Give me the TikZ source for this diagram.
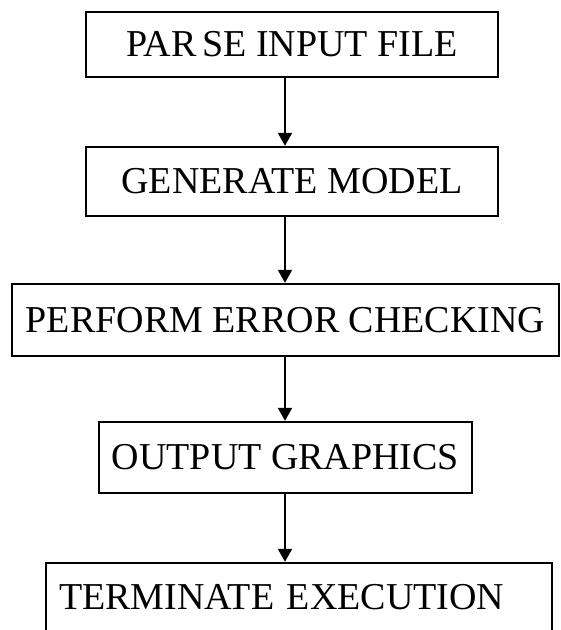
\documentclass[tikz,border=0pt]{standalone}
\usepackage{fontspec}
\setmainfont{Liberation Serif}
\usetikzlibrary{arrows.meta}

\tikzset{
  stage/.style={draw,line width=2.4pt,inner sep=0pt,
    font=\fontsize{38}{40}\selectfont},
  flow/.style={-{Triangle[width=14pt,length=13pt]},line width=2pt},
}

\begin{document}
\begin{tikzpicture}[x=1pt,y=-1pt]
  \useasboundingbox (0,0) rectangle (561,630);
  \coordinate (spine) at (285,0);

  % the five stages, top to bottom
  \node[stage,minimum width=412,minimum height=65] (parse) at (292,44.5)
    {PAR\kern0.15em SE INPUT FILE};
  \node[stage,minimum width=412,minimum height=69] (generate) at (292,181.5)
    {GENERATE MODEL};
  \node[stage,minimum width=547,minimum height=72] (check) at (285.5,320)
    {PERFORM ERROR CHECKING};
  \node[stage,minimum width=373,minimum height=71] (output) at (285.5,457.5)
    {OUTPUT GRAPHICS};
  % last box runs off the bottom of the page
  \node[stage,minimum height=69,text width=480,align=left,inner xsep=13]
    (halt) at (299,597.5) {TERMINATE EXECUTION};

  \foreach \a/\b in {parse/generate,generate/check,check/output,output/halt}
    \draw[flow] (\a.south -| spine) -- (\b.north -| spine);
\end{tikzpicture}
\end{document}
